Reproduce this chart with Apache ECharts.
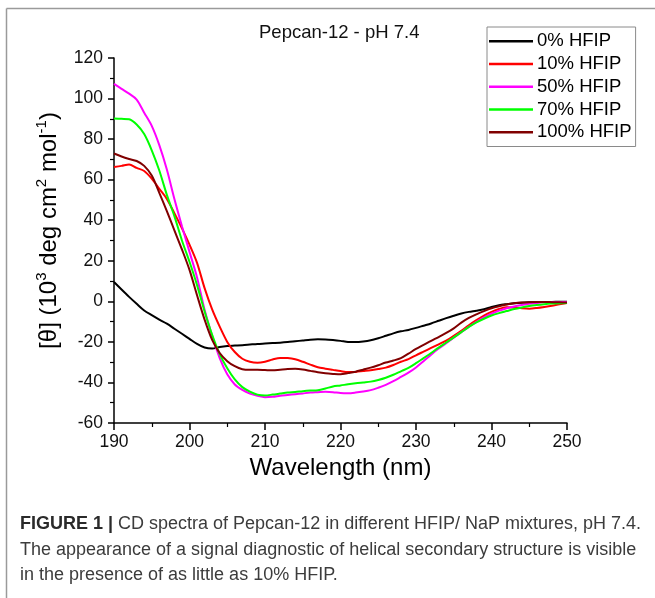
<!DOCTYPE html>
<html>
<head>
<meta charset="utf-8">
<script src="https://cdn.jsdelivr.net/npm/echarts@6/dist/echarts.min.js"></script>
<style>
html,body{margin:0;padding:0;background:#fff;}
#chart{width:655px;height:598px;}
</style>
</head>
<body>
<div id="chart"></div>
<script>
// Wavelength (nm)
var wavelengths = [190,191,192,193,194,195,196,197,198,199,200,201,202,203,204,205,206,207,208,209,210,211,212,213,214,215,216,217,218,219,220,221,222,223,224,225,226,227,228,229,230,231,232,233,234,235,236,237,238,239,240,241,242,243,244,245,246,247,248,249,250];

var hfip0 = [9.5,5.8,2.2,-1.2,-4.5,-6.8,-9,-11,-13.5,-16,-18.5,-21,-22.8,-23.3,-22.5,-22,-21.8,-21.6,-21.3,-21,-20.8,-20.6,-20.4,-20.1,-19.7,-19.3,-18.9,-18.7,-18.8,-19.1,-19.5,-20,-20.1,-19.8,-19.2,-18.2,-17,-15.8,-14.8,-14.1,-13.1,-12,-10.9,-9.6,-8.3,-7.1,-6,-5.2,-4.6,-3.9,-2.8,-1.9,-1.4,-1,-0.7,-0.5,-0.4,-0.3,-0.3,-0.2,-0.2];

var hfip10 = [66.3,66.8,67.5,65.8,64.3,60.5,55.5,50.5,43.5,36,28,19,6.5,-4,-12.5,-20,-25,-28.3,-29.8,-30.3,-29.8,-28.7,-27.9,-28,-28.6,-29.8,-31.2,-32.5,-33.2,-33.8,-34.4,-34.9,-34.8,-34.4,-34,-33.4,-32.7,-31.4,-29.8,-28.5,-26.6,-24.8,-23,-21.2,-19.4,-17,-14.5,-11.8,-9.3,-7,-5.2,-3.8,-2.9,-3,-3.4,-3.6,-3.3,-2.8,-2.2,-1.4,-0.8];

var hfip50 = [107.2,104.8,102.4,99.5,93,86.5,77,65,50.5,37,24.4,11.8,-4.2,-17,-28,-36,-41,-43.7,-45.5,-46.6,-47.3,-47.1,-46.6,-46.2,-45.8,-45.4,-45,-44.8,-44.6,-44.8,-45.2,-45.3,-45,-44.5,-43.8,-42.6,-41.2,-39.4,-37.3,-35.2,-32.6,-29.5,-26.3,-23.3,-20.6,-17.9,-15.2,-12.6,-10.1,-7.9,-6.1,-4.6,-3.4,-2.5,-1.8,-1.2,-0.8,-0.5,-0.4,-0.3,-0.3];

var hfip70 = [90.2,90,89.8,87.2,82.5,74.5,64.5,52.5,42,30,19.5,8,-5,-16.5,-26,-33,-38.5,-42.3,-44.5,-46,-46.4,-46,-45.5,-45,-44.7,-44.3,-44,-43.8,-43,-42,-41.5,-40.9,-40.4,-40,-39.6,-38.8,-37.7,-36.2,-34.5,-32.8,-30.5,-28,-25.5,-22.8,-20.3,-17.8,-15.2,-12.6,-10.4,-8.6,-7,-5.8,-4.8,-3.8,-3,-2.3,-1.8,-1.4,-1.1,-0.9,-0.8];

var hfip100 = [72.9,71.4,70.2,69.2,66.8,62,53.5,44.5,35,25.6,15.5,3,-9,-19,-25.5,-29.5,-32,-33.5,-33.8,-33.8,-33.9,-34,-33.7,-33.4,-33.3,-33.6,-34.3,-35,-35.5,-35.8,-36,-35.4,-34.7,-33.7,-32.7,-31.5,-30.2,-29.2,-28,-25.8,-23.5,-21.5,-19.5,-17.6,-15.6,-13.3,-10.5,-8.2,-6.4,-4.8,-3.4,-2.4,-1.6,-1,-0.6,-0.4,-0.3,-0.3,-0.4,-0.5,-0.6];

var seriesNames = ['0% HFIP','10% HFIP','50% HFIP','70% HFIP','100% HFIP'];
var seriesColors = ['#000000','#ff0000','#ff00ff','#00ff00','#800000'];
var seriesValues = [hfip0, hfip10, hfip50, hfip70, hfip100];

var titleText = 'Pepcan-12 - pH 7.4';
var xTitle = 'Wavelength (nm)';
var captionLines = [
  '{b|FIGURE 1 |} CD spectra of Pepcan-12 in different HFIP/ NaP mixtures, pH 7.4.',
  'The appearance of a signal diagnostic of helical secondary structure is visible',
  'in the presence of as little as 10% HFIP.'
];

var FONT = '"Liberation Sans", Arial, Helvetica, sans-serif';

function pairs(vals){
  return wavelengths.map(function(w,i){return [w, vals[i]];});
}

var series = seriesNames.map(function(n,i){
  return {
    name: n, type: 'line', data: pairs(seriesValues[i]),
    symbol: 'none', showSymbol: false, smooth: 0.3,
    lineStyle: {color: seriesColors[i], width: 2},
    itemStyle: {color: seriesColors[i]},
    z: 2 + i
  };
});

var chart = echarts.init(document.getElementById('chart'), null, {renderer: 'canvas'});
chart.setOption({
  animation: false,
  backgroundColor: '#fff',
  textStyle: {fontFamily: FONT, color: '#000'},
  title: {
    text: titleText, left: 259, top: 23, padding: 0,
    textStyle: {fontFamily: FONT, fontSize: 18.5, fontWeight: 'normal', color: '#111'}
  },
  legend: {
    orient: 'vertical', left: 487, top: 27,
    data: seriesNames,
    icon: 'rect', itemWidth: 44, itemHeight: 2.5, itemGap: 0,
    padding: [3, 4, 3, 2],
    borderColor: '#8a8a8a', borderWidth: 1, backgroundColor: '#fff',
    textStyle: {fontFamily: FONT, fontSize: 18.5, color: '#000', lineHeight: 22.7, padding: [0,0,0,-1]}
  },
  grid: {left: 114, right: 88, top: 58, bottom: 175, containLabel: false},
  xAxis: {
    type: 'value', min: 190, max: 250, interval: 10,
    name: xTitle, nameLocation: 'middle', nameGap: 33,
    nameTextStyle: {fontFamily: FONT, fontSize: 24, color: '#000'},
    axisLine: {onZero: false, lineStyle: {color: '#000', width: 1.5}},
    axisTick: {show: true, inside: false, length: 7, lineStyle: {color: '#000', width: 1.5}},
    minorTick: {show: true, splitNumber: 2, length: 4, lineStyle: {color: '#000', width: 1.2}},
    splitLine: {show: false},
    axisLabel: {fontFamily: FONT, fontSize: 17.5, color: '#111', margin: 10}
  },
  yAxis: {
    type: 'value', min: -60, max: 120, interval: 20,
    name: '{a|[θ] (10}{s|3}{a| deg cm}{s|2}{a| mol}{s|-1}{a|)}',
    nameLocation: 'middle', nameGap: 50, nameRotate: 90,
    nameTextStyle: {
      color: '#000',
      padding: [0, 0, 0, 20],
      rich: {
        a: {fontFamily: FONT, fontSize: 24, color: '#000', lineHeight: 30},
        s: {fontFamily: FONT, fontSize: 15, color: '#000', verticalAlign: 'top', lineHeight: 15}
      }
    },
    axisLine: {onZero: false, lineStyle: {color: '#000', width: 1.5}},
    axisTick: {show: true, inside: false, length: 6, lineStyle: {color: '#000', width: 1.5}},
    minorTick: {show: true, splitNumber: 2, length: 4, lineStyle: {color: '#000', width: 1.2}},
    splitLine: {show: false},
    axisLabel: {fontFamily: FONT, fontSize: 17.5, color: '#111', margin: 11}
  },
  series: series,
  graphic: [
    {type: 'line', shape: {x1: 6.5, y1: 8.5, x2: 655, y2: 8.5}, style: {stroke: '#9a9a9a', lineWidth: 1.5}, silent: true},
    {type: 'line', shape: {x1: 6.5, y1: 8.5, x2: 6.5, y2: 598}, style: {stroke: '#9a9a9a', lineWidth: 1.5}, silent: true},
    {type: 'text', left: 20, top: 515, style: {text: captionLines[0], fontFamily: FONT, fontSize: 18, fill: '#3c3c3c',
      rich: {b: {fontFamily: FONT, fontSize: 18, fontWeight: 'bold', fill: '#2a2a2a'}}}},
    {type: 'text', left: 20, top: 541, style: {text: captionLines[1], fontFamily: FONT, fontSize: 18, fill: '#3c3c3c'}},
    {type: 'text', left: 20, top: 566, style: {text: captionLines[2], fontFamily: FONT, fontSize: 18, fill: '#3c3c3c'}}
  ]
});
</script>
</body>
</html>
